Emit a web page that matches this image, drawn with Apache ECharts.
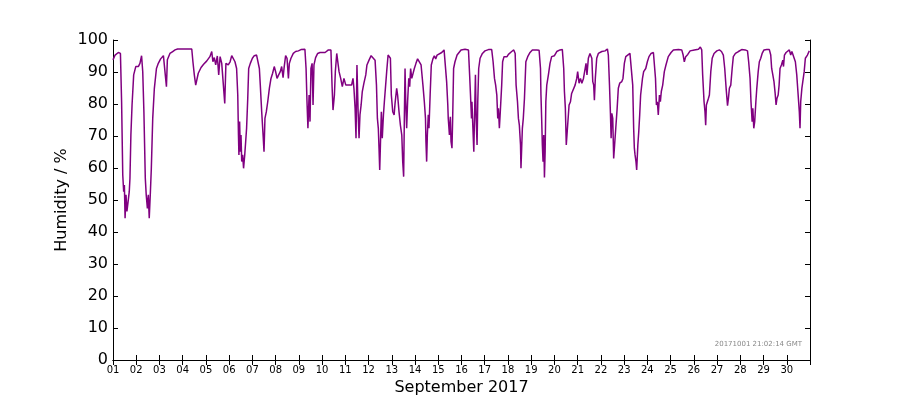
<!DOCTYPE html>
<html>
<head>
<meta charset="utf-8">
<script src="https://cdn.jsdelivr.net/npm/echarts@6/dist/echarts.min.js"></script>
<style>
  html, body { margin: 0; padding: 0; background: #fff; }
  #main { width: 900px; height: 400px; }
</style>
</head>
<body>
<div id="main"></div>
<script>
// time of reading, as day of September (1.5 = 1st at noon)
var days = [
  1.00, 1.09, 1.23, 1.32, 1.37, 1.42, 1.46, 1.49, 1.52, 1.56, 1.60, 1.65, 1.70, 1.73, 1.77, 1.82, 1.89, 1.98,
  2.09, 2.16, 2.23, 2.28, 2.33, 2.39, 2.43, 2.48, 2.52, 2.56, 2.61, 2.65, 2.71, 2.78, 2.87, 2.95,
  3.05, 3.17, 3.25, 3.30, 3.34, 3.45, 3.57, 3.67, 3.78, 4.39, 4.44, 4.50, 4.56, 4.63, 4.67, 4.79, 4.90,
  5.03, 5.17, 5.25, 5.30, 5.36, 5.42, 5.49, 5.55, 5.61, 5.68, 5.75, 5.81, 5.86, 5.96,
  6.04, 6.11, 6.18, 6.25, 6.32, 6.37, 6.40, 6.42, 6.45, 6.48, 6.51, 6.54, 6.58, 6.62, 6.67, 6.71, 6.75, 6.80, 6.84, 6.91,
  7.00, 7.08, 7.18, 7.26, 7.30, 7.34, 7.40, 7.46, 7.50, 7.54, 7.60, 7.66, 7.73, 7.80, 7.87, 7.94,
  8.00, 8.06, 8.13, 8.20, 8.26, 8.32, 8.37, 8.43, 8.49, 8.55, 8.59, 8.66, 8.76, 8.86, 8.98,
  9.09, 9.26, 9.31, 9.35, 9.39, 9.44, 9.48, 9.52, 9.57, 9.61, 9.65, 9.72, 9.81, 9.91,
  10.13, 10.27, 10.38, 10.43, 10.47, 10.53, 10.57, 10.63, 10.69, 10.73, 10.80, 10.87, 10.94,
  11.02, 11.09, 11.16, 11.22, 11.27, 11.33, 11.37, 11.42, 11.46, 11.50, 11.55, 11.59, 11.63, 11.68, 11.73, 11.80, 11.88, 11.93,
  12.02, 12.11, 12.19, 12.28, 12.34, 12.38, 12.42, 12.45, 12.48, 12.51, 12.55, 12.59, 12.64, 12.68, 12.74, 12.78, 12.84, 12.90, 12.94, 12.98,
  13.04, 13.10, 13.14, 13.21, 13.25, 13.31, 13.37, 13.43, 13.47, 13.51, 13.54, 13.57, 13.60, 13.64, 13.68, 13.73, 13.77, 13.81, 13.86, 13.91, 13.97,
  14.04, 14.11, 14.19, 14.26, 14.34, 14.40, 14.45, 14.47, 14.50, 14.53, 14.57, 14.60, 14.65, 14.70, 14.77, 14.83, 14.89, 14.95,
  15.03, 15.15, 15.25, 15.31, 15.36, 15.41, 15.43, 15.48, 15.52, 15.55, 15.59, 15.62, 15.66, 15.72, 15.81, 15.89, 15.98,
  16.15, 16.30, 16.35, 16.40, 16.43, 16.45, 16.48, 16.53, 16.55, 16.60, 16.63, 16.67, 16.70, 16.74, 16.80, 16.90,
  17.01, 17.16, 17.30, 17.36, 17.42, 17.47, 17.52, 17.56, 17.59, 17.63, 17.67, 17.73, 17.77, 17.83, 17.90, 17.96,
  18.02, 18.09, 18.16, 18.25, 18.31, 18.35, 18.41, 18.45, 18.49, 18.54, 18.56, 18.59, 18.62, 18.66, 18.71, 18.77, 18.85, 18.95,
  19.05, 19.24, 19.34, 19.40, 19.42, 19.45, 19.48, 19.51, 19.54, 19.57, 19.60, 19.63, 19.67, 19.74, 19.81, 19.88,
  20.00, 20.10, 20.24, 20.34, 20.40, 20.43, 20.47, 20.51, 20.57, 20.63, 20.69, 20.74, 20.82, 20.89, 20.96,
  21.00, 21.06, 21.12, 21.18, 21.25, 21.32, 21.36, 21.40, 21.46, 21.53, 21.61, 21.65, 21.69, 21.72, 21.76, 21.82, 21.89,
  22.04, 22.18, 22.28, 22.32, 22.37, 22.41, 22.44, 22.47, 22.51, 22.55, 22.59, 22.64, 22.70, 22.75, 22.81, 22.90, 22.95,
  23.01, 23.07, 23.15, 23.25, 23.33, 23.37, 23.41, 23.44, 23.47, 23.51, 23.54, 23.59, 23.63, 23.67, 23.71, 23.79, 23.84, 23.93,
  24.00, 24.07, 24.16, 24.26, 24.30, 24.35, 24.39, 24.43, 24.47, 24.52, 24.56, 24.60, 24.66, 24.73, 24.80, 24.90,
  25.02, 25.12, 25.34, 25.48, 25.54, 25.59, 25.65, 25.74, 25.84,
  26.02, 26.20, 26.28, 26.34, 26.38, 26.44, 26.48, 26.51, 26.54, 26.59, 26.63, 26.67, 26.73, 26.79, 26.87, 26.99,
  27.10, 27.19, 27.27, 27.33, 27.39, 27.45, 27.49, 27.53, 27.59, 27.65, 27.70, 27.79, 27.92,
  28.06, 28.21, 28.31, 28.36, 28.42, 28.46, 28.51, 28.54, 28.58, 28.62, 28.67, 28.71, 28.77, 28.82, 28.88, 28.94,
  29.02, 29.14, 29.25, 29.31, 29.35, 29.40, 29.45, 29.50, 29.54, 29.58, 29.63, 29.67, 29.71, 29.77, 29.83, 29.86, 29.90, 29.97,
  30.03, 30.11, 30.17, 30.22, 30.29, 30.37, 30.43, 30.47, 30.52, 30.54, 30.57, 30.60, 30.65, 30.69, 30.75, 30.80, 30.89, 30.97
];

// relative humidity, %
var humidity = [
  93.8, 95.3, 96.1, 95.8, 80.7, 57.8, 52.6, 54.7, 44.3, 51.6, 46.4, 49.5, 52.6, 56.8, 70.3, 79.7, 89.1, 91.7,
  91.7, 92.7, 95.1, 90.1, 77.6, 56.8, 51.6, 47.4, 51.6, 44.3, 52.6, 59.9, 75.5, 84.9, 91.1, 92.7,
  94.1, 95.1, 94.8, 85.4, 93.8, 95.8, 96.4, 96.9, 97.2, 97.2, 93.2, 89.1, 85.9, 85.4, 89.6, 91.4, 92.4,
  93.4, 94.8, 96.4, 93.2, 94.5, 92.2, 95.0, 89.1, 94.8, 92.7, 92.2, 80.2, 92.7, 92.2,
  93.2, 95.1, 94.5, 93.2, 91.1, 82.8, 70.3, 64.1, 74.5, 65.1, 70.3, 62.0, 64.1, 59.9, 64.1, 68.2, 72.4, 81.8, 91.1, 92.7,
  94.3, 95.1, 95.3, 95.8, 91.1, 85.9, 77.6, 70.3, 65.1, 75.5, 77.6, 80.7, 84.9, 88.0, 89.6, 91.7,
  90.1, 88.0, 89.1, 90.1, 91.7, 88.2, 91.7, 95.1, 94.3, 88.0, 92.7, 94.3, 95.8, 96.4, 96.6,
  97.0, 97.1, 91.1, 80.7, 72.4, 82.8, 74.5, 91.1, 92.7, 79.7, 92.2, 94.5, 95.8, 96.1,
  96.1, 96.9, 96.9, 85.4, 78.1, 82.8, 90.1, 95.8, 95.8, 90.1, 88.0, 85.4, 88.0,
  85.9, 85.4, 85.9, 85.4, 85.9, 88.0, 84.9, 78.7, 69.3, 92.2, 77.6, 69.3, 76.6, 79.7, 83.9, 86.5, 89.1, 92.2,
  93.7, 95.1, 95.1, 93.7, 85.9, 75.5, 72.4, 66.2, 59.4, 67.2, 77.6, 69.3, 76.6, 80.7, 81.2, 90.1, 95.3, 95.8, 94.3, 82.8,
  77.6, 76.6, 80.2, 84.9, 82.8, 77.6, 73.4, 70.3, 62.0, 57.3, 75.5, 91.1, 80.7, 72.4, 80.7, 88.0, 85.4, 91.1, 88.0, 88.0, 91.1,
  92.7, 94.1, 93.7, 92.2, 85.9, 80.7, 75.5, 68.2, 62.0, 70.3, 76.6, 72.4, 82.8, 92.2, 94.1, 95.1, 94.1, 95.3,
  95.8, 96.1, 96.9, 96.4, 87.0, 79.7, 75.5, 70.3, 76.0, 68.2, 66.2, 75.5, 91.1, 93.2, 95.3, 95.8, 96.9,
  97.1, 96.9, 89.1, 80.7, 75.5, 80.7, 74.5, 65.1, 72.4, 89.1, 75.5, 67.2, 80.7, 91.1, 94.3, 95.8,
  96.6, 97.0, 97.0, 93.2, 88.0, 85.9, 82.8, 75.5, 78.7, 72.4, 77.6, 85.9, 93.2, 94.8, 95.1, 94.8,
  95.5, 95.5, 96.4, 96.9, 95.8, 85.9, 80.7, 75.5, 73.4, 67.2, 59.9, 66.2, 72.4, 75.5, 81.8, 93.2, 94.8, 96.1,
  96.9, 96.9, 96.8, 91.1, 82.8, 75.5, 67.2, 62.0, 70.3, 57.0, 65.1, 80.7, 85.9, 89.1, 92.7, 94.8,
  95.1, 96.4, 96.9, 97.0, 91.1, 83.9, 78.7, 67.2, 67.2, 79.7, 80.7, 83.3, 83.9, 85.9, 88.0,
  90.1, 86.5, 88.0, 86.5, 88.0, 87.5, 92.7, 89.1, 94.3, 95.8, 94.3, 87.0, 85.9, 81.2, 88.0, 94.3, 95.8,
  96.4, 96.6, 97.2, 95.3, 85.9, 77.1, 69.3, 77.1, 75.5, 63.0, 67.2, 72.4, 78.7, 84.9, 86.5, 87.0, 88.0,
  92.7, 94.8, 95.3, 95.8, 95.8, 85.9, 72.4, 66.2, 64.1, 62.0, 59.4, 67.2, 71.4, 76.6, 82.8, 88.0, 90.1, 91.1,
  93.2, 94.8, 95.8, 96.1, 95.8, 88.0, 79.7, 80.7, 76.6, 82.8, 80.7, 83.9, 85.9, 90.1, 92.2, 94.8,
  96.1, 96.9, 97.0, 96.9, 95.3, 93.2, 94.8, 95.5, 96.6,
  96.9, 97.1, 97.8, 96.9, 89.1, 80.7, 77.6, 73.4, 79.7, 79.2, 81.8, 82.8, 90.1, 94.3, 95.8, 96.6,
  96.9, 96.4, 95.3, 91.1, 84.9, 79.5, 81.8, 84.9, 85.9, 91.1, 94.8, 95.8, 96.4,
  97.0, 96.9, 96.6, 93.2, 88.0, 80.7, 74.5, 78.7, 72.4, 74.5, 80.7, 84.9, 90.1, 93.2, 94.3, 95.8,
  96.9, 97.0, 97.0, 95.3, 91.1, 89.1, 87.0, 83.3, 79.7, 81.8, 82.8, 85.9, 91.1, 92.2, 93.7, 91.7, 95.3, 96.1,
  96.6, 96.9, 95.3, 96.4, 95.8, 93.2, 89.1, 84.9, 79.7, 77.6, 72.4, 80.7, 84.9, 87.0, 90.1, 94.3, 95.3, 96.6
];

var yTicks = [0, 10, 20, 30, 40, 50, 60, 70, 80, 90, 100];
var monthLabel = 'September 2017';
var stamp = '20171001 21:02:14 GMT';

var points = days.map(function (d, i) { return [d, humidity[i]]; });

var myChart = echarts.init(document.getElementById('main'));
var font = 'DejaVu Sans';

myChart.setOption({
    animation: false,
    grid: { left: 113, right: 90, top: 40, bottom: 40, containLabel: false, outerBoundsMode: 'none' },
    xAxis: [{
        type: 'value',
        min: 1,
        max: 31,
        interval: 1,
        name: monthLabel,
        nameLocation: 'middle',
        nameGap: 19,
        nameTextStyle: { fontFamily: font, fontSize: 16, color: '#000' },
        axisLine: { lineStyle: { color: '#000', width: 1 } },
        axisTick: { inside: true, length: 5, lineStyle: { color: '#000' } },
        axisLabel: {
            fontFamily: font, fontSize: 10, color: '#000', margin: 5,
            formatter: function (v) { return v < 31 ? (v < 10 ? '0' + v : '' + v) : ''; }
        },
        splitLine: { show: false }
    }, {
        type: 'value',
        position: 'top',
        min: 1,
        max: 31,
        interval: 1,
        axisLine: { show: true, lineStyle: { color: '#000', width: 1 } },
        axisTick: { inside: true, length: 5, lineStyle: { color: '#000' } },
        axisLabel: { show: false },
        splitLine: { show: false }
    }],
    yAxis: [{
        type: 'value',
        min: yTicks[0],
        max: yTicks[yTicks.length - 1],
        interval: 10,
        name: 'Humidity / %',
        nameLocation: 'middle',
        nameGap: 43,
        nameMoveOverlap: false,
        nameRotate: 90,
        nameTextStyle: { fontFamily: font, fontSize: 16, color: '#000' },
        axisLine: { show: true, lineStyle: { color: '#000', width: 1 } },
        axisTick: { show: true, inside: true, length: 5, lineStyle: { color: '#000' } },
        axisLabel: { fontFamily: font, fontSize: 16, color: '#000', margin: 5 },
        splitLine: { show: false }
    }, {
        type: 'value',
        position: 'right',
        min: yTicks[0],
        max: yTicks[yTicks.length - 1],
        interval: 10,
        axisLine: { show: true, lineStyle: { color: '#000', width: 1 } },
        axisTick: { show: true, inside: true, length: 5, lineStyle: { color: '#000' } },
        axisLabel: { show: false },
        splitLine: { show: false }
    }],
    graphic: [{
        type: 'text',
        right: 98,
        top: 341,
        style: { text: stamp, fontFamily: font, fontSize: 7, fill: '#888' }
    }],
    series: [{
        name: 'Humidity',
        type: 'line',
        data: points,
        showSymbol: false,
        symbol: 'none',
        lineStyle: { color: '#800080', width: 1.5 },
        itemStyle: { color: '#800080' }
    }]
});
</script>
</body>
</html>
